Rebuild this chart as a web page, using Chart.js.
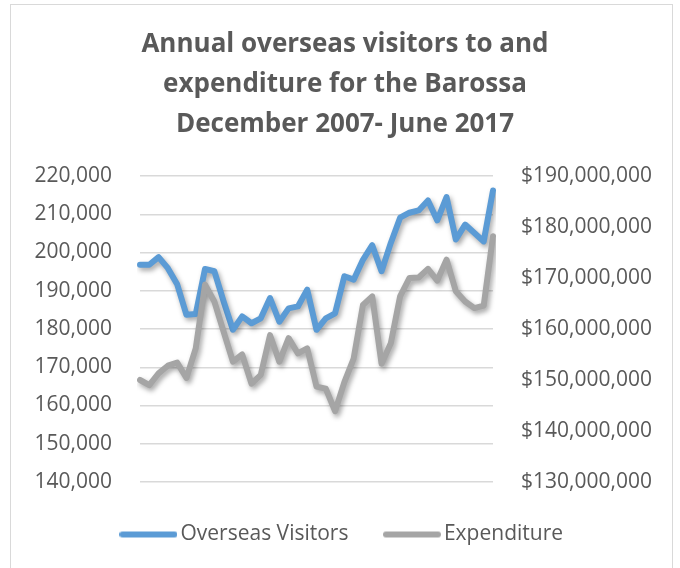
<!DOCTYPE html>
<html>
<head>
<meta charset="utf-8">
<script src="https://cdn.jsdelivr.net/npm/chart.js@4.4.1/dist/chart.umd.min.js"></script>
<style>
  html, body { margin: 0; padding: 0; background: #fff; overflow: hidden; }
  #frame {
    position: absolute; left: 10px; top: 4px; width: 661px; height: 600px;
    border: 1px solid #d9d9d9; border-bottom: none;
  }
  #chart { position: absolute; left: 0; top: 0; }
</style>
</head>
<body>
<div id="frame"></div>
<canvas id="chart" width="680" height="568"></canvas>
<script>
// --- Data (quarterly, annual rolling totals) ---
const quarters = [
  "Dec-07",
  "Mar-08", "Jun-08", "Sep-08", "Dec-08",
  "Mar-09", "Jun-09", "Sep-09", "Dec-09",
  "Mar-10", "Jun-10", "Sep-10", "Dec-10",
  "Mar-11", "Jun-11", "Sep-11", "Dec-11",
  "Mar-12", "Jun-12", "Sep-12", "Dec-12",
  "Mar-13", "Jun-13", "Sep-13", "Dec-13",
  "Mar-14", "Jun-14", "Sep-14", "Dec-14",
  "Mar-15", "Jun-15", "Sep-15", "Dec-15",
  "Mar-16", "Jun-16", "Sep-16", "Dec-16",
  "Mar-17", "Jun-17"
];

const visitors = [
  196800, 196800, 198800, 195900, 191700, 183700, 183900, 195700, 195100, 187200,
  179800, 183300, 181500, 182800, 188100, 181900, 185400, 185900, 190300, 179800,
  182800, 184100, 193800, 192900, 198100, 201900, 195100, 202500, 209100, 210400,
  211000, 213600, 208400, 214500, 203400, 207300, 205100, 202900, 216200
];

const expenditure = [
  150000000, 149000000, 151300000, 152800000, 153400000, 150400000, 156200000, 168700000,
  165400000, 159500000, 153600000, 155000000, 149300000, 151000000, 158800000, 153600000,
  158200000, 155200000, 156200000, 148700000, 148300000, 143900000, 149600000, 154200000,
  164700000, 166400000, 153200000, 157200000, 166400000, 170000000, 170100000, 171800000,
  169500000, 173600000, 167400000, 165400000, 164100000, 164600000, 178200000
];

const titleLines = ["Annual overseas visitors to and", "expenditure for the Barossa", "December 2007- June 2017"];

const textColor = "#595959";
const fontFamily = "'Open Sans', sans-serif";
const blue = "#5B9BD5";
const grey = "#A5A5A5";

// legend sample: a thick rounded line, drawn as a small canvas
function legendLine(color) {
  const c = document.createElement("canvas");
  c.width = 58;
  c.height = 10;
  const g = c.getContext("2d");
  g.strokeStyle = color;
  g.lineWidth = 6;
  g.lineCap = "round";
  g.beginPath();
  g.moveTo(3, 5);
  g.lineTo(55, 5);
  g.stroke();
  return c;
}

// soft drop shadow under the lines, like the office chart
const lineShadow = {
  id: "lineShadow",
  beforeDatasetDraw(chart) {
    const ctx = chart.ctx;
    ctx.save();
    ctx.shadowColor = "rgba(0,0,0,0.35)";
    ctx.shadowBlur = 5;
    ctx.shadowOffsetX = 2;
    ctx.shadowOffsetY = 3;
  },
  afterDatasetDraw(chart) {
    chart.ctx.restore();
  }
};

new Chart(document.getElementById("chart"), {
  type: "line",
  data: {
    labels: quarters,
    datasets: [
      {
        label: "Overseas Visitors",
        data: visitors,
        yAxisID: "y",
        borderColor: blue,
        backgroundColor: blue,
        borderWidth: 6,
        borderCapStyle: "round",
        borderJoinStyle: "round",
        pointRadius: 0,
        pointStyle: legendLine(blue),
        tension: 0,
        order: 1
      },
      {
        label: "Expenditure",
        data: expenditure,
        yAxisID: "y1",
        borderColor: grey,
        backgroundColor: grey,
        borderWidth: 6,
        borderCapStyle: "round",
        borderJoinStyle: "round",
        pointRadius: 0,
        pointStyle: legendLine(grey),
        tension: 0,
        order: 0
      }
    ]
  },
  options: {
    responsive: false,
    animation: false,
    layout: { padding: { left: 10, right: 0, top: 0, bottom: 13 } },
    plugins: {
      title: {
        display: true,
        text: titleLines,
        color: textColor,
        font: { family: fontFamily, size: 26, weight: "bold", lineHeight: 40 / 26 },
        padding: { top: 25, bottom: 31 }
      },
      legend: {
        position: "bottom",
        labels: {
          usePointStyle: true,
          pointStyleWidth: 43,
          color: textColor,
          font: { family: fontFamily, size: 21 },
          padding: 42,
          sort: (a, b) => a.datasetIndex - b.datasetIndex
        }
      },
      tooltip: { enabled: false }
    },
    scales: {
      x: {
        offset: false,
        grid: { display: false },
        border: { display: false },
        ticks: { display: false },
        afterFit(scale) { scale.height = 0; }
      },
      y: {
        position: "left",
        min: 140000,
        max: 220000,
        grid: { color: "#d9d9d9", lineWidth: 1.5, drawTicks: false },
        border: { display: false },
        ticks: {
          stepSize: 10000,
          padding: 28,
          color: textColor,
          font: { family: fontFamily, size: 21 },
          callback: v => v.toLocaleString("en-US")
        },
        afterFit(scale) { scale.width = 130; }
      },
      y1: {
        position: "right",
        min: 130000000,
        max: 190000000,
        grid: { display: false, drawTicks: false },
        border: { display: false },
        ticks: {
          stepSize: 10000000,
          padding: 28,
          color: textColor,
          font: { family: fontFamily, size: 21 },
          callback: v => "$" + v.toLocaleString("en-US")
        },
        afterFit(scale) { scale.width = 187; }
      }
    }
  },
  plugins: [lineShadow]
});
</script>
</body>
</html>
